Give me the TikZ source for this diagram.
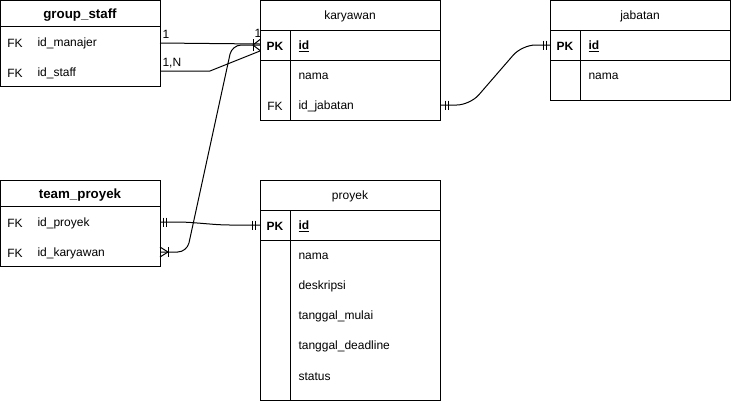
\documentclass[tikz,border=0pt]{standalone}
\usepackage{fontspec}
\setmainfont{Liberation Sans}
\begin{document}
\begin{tikzpicture}[x=0.75pt,y=-0.75pt,line width=0.75pt,
  tbl/.style={draw,line width=0.75pt},
  ttl/.style={font=\fontsize{9}{11}\selectfont,inner sep=0,yshift=-0.8pt},
  ttlb/.style={font=\fontsize{10}{12}\selectfont\bfseries,inner sep=0,yshift=-0.6pt},
  keyc/.style={font=\fontsize{9}{11}\selectfont,inner sep=0,anchor=center,yshift=-1.1pt},
  pkc/.style={font=\fontsize{9}{11}\selectfont\bfseries,inner sep=0,anchor=center,yshift=-1.1pt},
  fld/.style={font=\fontsize{9}{11}\selectfont,inner sep=0,anchor=west,yshift=-1.1pt},
  pkf/.style={font=\fontsize{9}{11}\selectfont\bfseries,inner sep=0,anchor=west,yshift=-1.1pt},
  conn/.style={draw,line width=0.75pt},
  mk/.style={draw,line width=0.75pt},
  lbl/.style={font=\fontsize{9}{11}\selectfont,inner sep=0,anchor=south west}]
\useasboundingbox (0,0) rectangle (731,401);

% group_staff
\draw[tbl] (0.5,0.5) rectangle (160,86);
\draw[tbl] (0.5,26) -- (160,26);
\node[ttlb] (gst) at (80,14) {group\_staff};
\node[keyc] (gsk1) at (15,42) {FK};
\node[fld] (gsf1) at (37,42) {id\_manajer};
\node[keyc] (gsk2) at (15,72) {FK};
\node[fld] (gsf2) at (37,72) {id\_staff};

% karyawan
\draw[tbl] (260,0.5) rectangle (440,120);
\draw[tbl] (260,30) -- (440,30);
\draw[tbl] (260,60) -- (440,60);
\draw[tbl] (290,30) -- (290,120);
\node[ttl] (kt) at (350,15) {karyawan};
\node[pkc] (kk1) at (275,45) {PK};
\node[pkf] (kf1) at (298,45) {\underline{id}};
\node[fld] (kf2) at (298,75) {nama};
\node[keyc] (kk3) at (275,105) {FK};
\node[fld] (kf3) at (298,105) {id\_jabatan};

% jabatan
\draw[tbl] (550.5,0.5) rectangle (730.5,100);
\draw[tbl] (550.5,30) -- (730.5,30);
\draw[tbl] (550.5,60) -- (730.5,60);
\draw[tbl] (580.5,30) -- (580.5,100);
\node[ttl] (jt) at (640,15) {jabatan};
\node[pkc] (jk1) at (565,45) {PK};
\node[pkf] (jf1) at (588,45) {\underline{id}};
\node[fld] (jf2) at (588,75) {nama};

% team_proyek
\draw[tbl] (0.5,180.5) rectangle (160,266);
\draw[tbl] (0.5,206) -- (160,206);
\node[ttlb] (tpt) at (80,194) {team\_proyek};
\node[keyc] (tpk1) at (15,222) {FK};
\node[fld] (tpf1) at (37,222) {id\_proyek};
\node[keyc] (tpk2) at (15,252) {FK};
\node[fld] (tpf2) at (37,252) {id\_karyawan};

% proyek
\draw[tbl] (260,180.5) rectangle (440,400);
\draw[tbl] (260,210) -- (440,210);
\draw[tbl] (260,240) -- (440,240);
\draw[tbl] (290,210) -- (290,400);
\node[ttl] (pt) at (350,195) {proyek};
\node[pkc] (pk1) at (275,225) {PK};
\node[pkf] (pf1) at (298,225) {\underline{id}};
\node[fld] (pf2) at (298,255) {nama};
\node[fld] (pf3) at (298,285) {deskripsi};
\node[fld] (pf4) at (298,315) {tanggal\_mulai};
\node[fld] (pf5) at (298,345) {tanggal\_deadline};
\node[fld] (pf6) at (298,375) {status};

% connector points
\coordinate (gsm) at (160,43);
\coordinate (gss) at (160,71);
\coordinate (kpa) at (260,44);
\coordinate (kpb) at (260,51);
\coordinate (kpc) at (260,45);
\coordinate (kjb) at (440,105);
\coordinate (jpk) at (550,45);
\coordinate (tpp) at (160,222);
\coordinate (tpkar) at (160,252);
\coordinate (ppk) at (260,225);

% group_staff -> karyawan
\draw[conn] (gsm) -- (kpa);
\draw[conn] (gss) -- (210,71) -- (kpb);
\node[lbl] (l1) at (162,39) {1};
\node[lbl] (l2) at (162,69) {1,N};
\node[lbl] (l3) at (254,38) {1};

% team_proyek id_karyawan -> karyawan
\draw[conn,rounded corners=7pt] (tpkar) -- (187,252) -- (232,45) -- (kpc);
\draw[mk] (253,39) -- (253,51);
\draw[mk] (260,39.5) -- (253,45) -- (260,50.5);
\draw[mk] (160,247) -- (168,252) -- (160,257);
\draw[mk] (168,247) -- (168,257);

% karyawan id_jabatan -> jabatan
\draw[conn,rounded corners=10pt] (kjb) -- (470,105) -- (522,45) -- (jpk);
\draw[mk] (445,100.5) -- (445,109.5);
\draw[mk] (448.5,100.5) -- (448.5,109.5);
\draw[mk] (543,40.5) -- (543,49.5);
\draw[mk] (546.5,40.5) -- (546.5,49.5);

% team_proyek id_proyek -> proyek
\draw[conn,rounded corners=6pt] (tpp) -- (185,222) -- (222,225) -- (ppk);
\draw[mk] (163,217.5) -- (163,226.5);
\draw[mk] (166.5,217.5) -- (166.5,226.5);
\draw[mk] (252,220.5) -- (252,229.5);
\draw[mk] (255.5,220.5) -- (255.5,229.5);
\end{tikzpicture}
\end{document}
